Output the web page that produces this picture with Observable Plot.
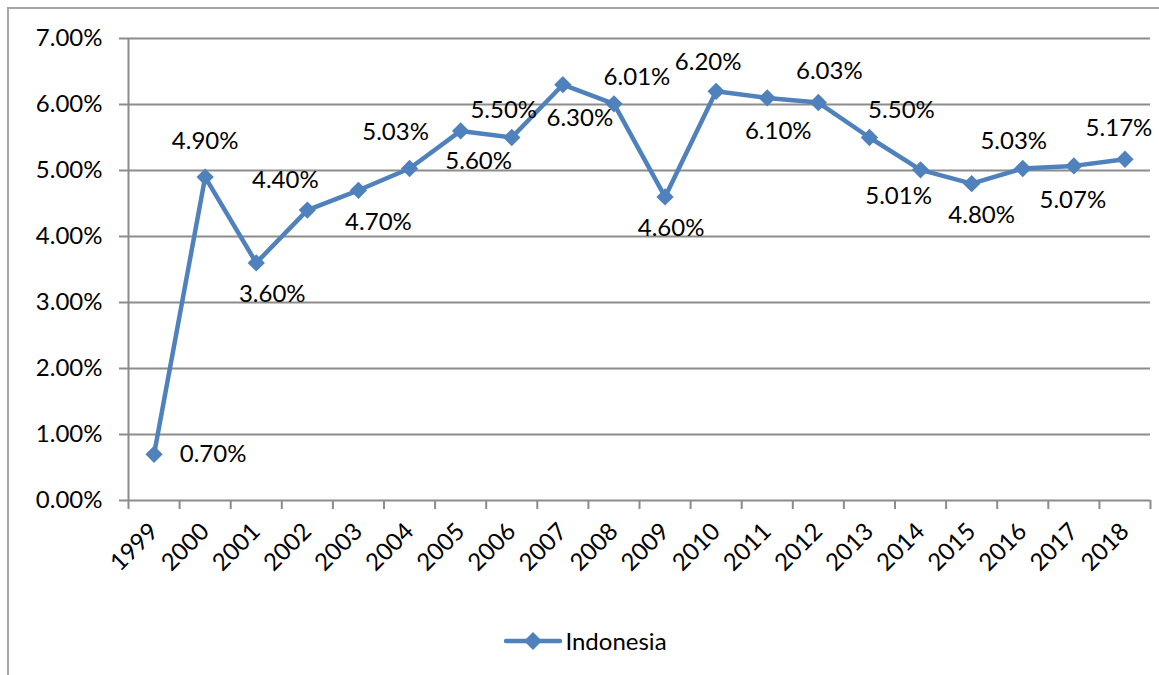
<!DOCTYPE html>
<html>
<head>
<meta charset="utf-8">
<script src="https://cdn.jsdelivr.net/npm/d3@7"></script>
<script src="https://cdn.jsdelivr.net/npm/@observablehq/plot@0.6"></script>
<style>
  html, body { margin: 0; padding: 0; background: #fff; }
  body { width: 1159px; height: 675px; position: relative; overflow: hidden; font-family: Lato, sans-serif; }
  #frame { position: absolute; left: 7px; top: 7px; width: 1160px; height: 680px; border-left: 2px solid #a6a6a6; border-top: 2px solid #a6a6a6; box-sizing: border-box; }
  #chart { position: absolute; left: 0; top: 0; }
  #legend { position: absolute; left: 0; top: 626px; width: 1159px; display: flex; justify-content: center; align-items: center; font-size: 24px; color: #000; padding-left: 12px; box-sizing: border-box; }
  #legend span { margin-left: 3px; }
</style>
</head>
<body>
<div id="frame"></div>
<div id="chart"></div>
<div id="legend"></div>
<script>
const years = [1999, 2000, 2001, 2002, 2003, 2004, 2005, 2006, 2007, 2008, 2009, 2010, 2011, 2012, 2013, 2014, 2015, 2016, 2017, 2018];
const growth = [0.70, 4.90, 3.60, 4.40, 4.70, 5.03, 5.60, 5.50, 6.30, 6.01, 4.60, 6.20, 6.10, 6.03, 5.50, 5.01, 4.80, 5.03, 5.07, 5.17];
const seriesName = "Indonesia";
const yTicks = [0, 1, 2, 3, 4, 5, 6, 7];
// label placement (dx, dy in px) relative to each point
const labelDx = [59, 0, 16, -22, 20, -14, 18, -8, 17, 23, 6, -8, 11, 11, 32, -22, 10, -9, -1, -6];
const labelDy = [0, -36, 31, -30, 32, -36, 30, -27, 34, -27, 31, -29, 33, -31, -27, 26, 32, -27, 34, -31];

const color = "#4F81BD";
const grid = "#8c8c8c";
const data = years.map((y, i) => ({year: y, value: growth[i], dx: labelDx[i], dy: labelDy[i]}));
const bounds = d3.range(years[0] - 0.5, years[years.length - 1] + 1, 1);
const fmt = v => v.toFixed(2) + "%";

const plot = Plot.plot({
  width: 1159,
  height: 605,
  marginLeft: 128,
  marginRight: 9,
  marginTop: 38,
  marginBottom: 105,
  style: {fontFamily: "Lato, sans-serif", fontSize: "24px", color: "#000", background: "transparent"},
  x: {domain: [years[0] - 0.5, years[years.length - 1] + 0.5]},
  y: {domain: [0, 7]},
  marks: [
    Plot.ruleY(yTicks, {stroke: grid, strokeWidth: 2}),
    Plot.ruleX([years[0] - 0.5], {stroke: grid, strokeWidth: 2}),
    Plot.axisY({ticks: yTicks, tickFormat: fmt, tickSize: 9, tickPadding: 17, stroke: grid, strokeWidth: 2, label: null, fontSize: 24}),
    Plot.axisX({ticks: bounds, tickFormat: () => "", tickSize: 9, stroke: grid, strokeWidth: 2, label: null}),
    Plot.axisX({ticks: years, tickFormat: d => String(d), tickSize: 0, tickPadding: 27, tickRotate: -45, label: null, fontSize: 24}),
    Plot.line(data, {x: "year", y: "value", stroke: color, strokeWidth: 4.5}),
    Plot.dot(data, {x: "year", y: "value", symbol: "diamond2", r: 7.8, fill: color, stroke: null}),
    Plot.text(data, {x: "year", y: "value", text: d => fmt(d.value), dx: 0, dy: 0, fill: "#000", fontSize: 24,
      render: (index, scales, values, dims, ctx, next) => {
        const g = next(index, scales, values, dims, ctx);
        d3.select(g).selectAll("text").each(function(_, k) {
          const i = index[k];
          d3.select(this).attr("transform", `translate(${values.x[i] + data[i].dx},${values.y[i] + data[i].dy})`);
        });
        return g;
      }})
  ]
});
document.getElementById("chart").appendChild(plot);

// legend
const legend = d3.select("#legend");
const ls = legend.append("svg").attr("width", 58).attr("height", 24);
ls.append("line").attr("x1", 2).attr("x2", 56).attr("y1", 12).attr("y2", 12).attr("stroke", color).attr("stroke-width", 4.5).attr("stroke-linecap", "round");
ls.append("path").attr("d", "M29,3L38,12L29,21L20,12Z").attr("fill", color);
legend.append("span").text(seriesName);
</script>
</body>
</html>
